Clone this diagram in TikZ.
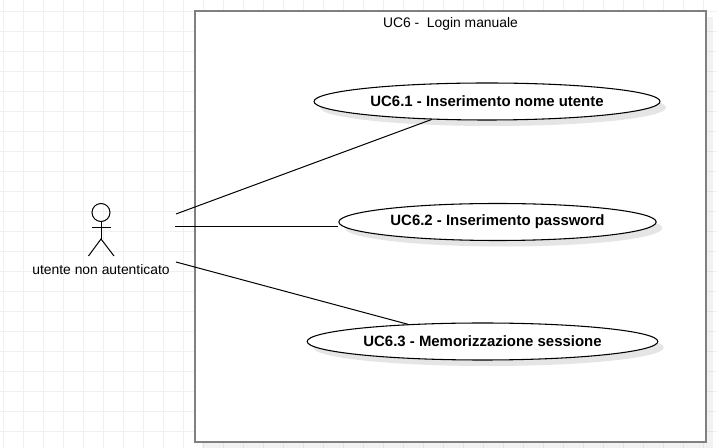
\documentclass[tikz,border=0pt]{standalone}
\usepackage{fontspec}
\setmainfont{Liberation Sans}
\usetikzlibrary{shadows,shapes.geometric}

\tikzset{
	gridline/.style={draw=black!6,line width=0.75pt},
	usecase/.style={ellipse,draw=black,line width=0.8pt,fill=white,minimum height=27.75pt,inner sep=0pt,
		drop shadow={shadow xshift=4.5pt,shadow yshift=-4.5pt,fill=black!10,opacity=1},
		font=\fontsize{11.2}{12}\selectfont\bfseries},
	sysbox/.style={rectangle,draw=black!50,line width=1.5pt,fill=white,minimum width=383.25pt,minimum height=323.25pt,inner sep=0pt,
		drop shadow={shadow xshift=5.6pt,shadow yshift=-4.5pt,fill=black,opacity=0.05}},
	link/.style={draw=black,line width=0.75pt},
	plainlabel/.style={font=\fontsize{10.4}{12}\selectfont,inner sep=0pt}
}

\begin{document}
\begin{tikzpicture}[x=0.75pt,y=-0.75pt]
	\useasboundingbox[fill=white] (0,0) rectangle (717,448);

	% grid
	\foreach \gx in {3,23,...,703} {
		\draw[gridline] (\gx,0) -- (\gx,448);
	}
	\foreach \gy in {12,32,...,432} {
		\draw[gridline] (0,\gy) -- (717,\gy);
	}

	\node[sysbox] (system) at (450.5,226.5) {};
	\node[plainlabel] (title) at (450.5,24) {UC6 -\ \ Login manuale};

	\node[usecase,minimum width=259.5pt] (insnome) at (487,101.5) {UC6.1 - Inserimento nome utente};
	\node[usecase,minimum width=238pt] (inspass) at (497.5,222) {UC6.2 - Inserimento password};
	\node[usecase,minimum width=263pt] (memsess) at (482.5,341.5) {UC6.3 - Memorizzazione sessione};

	% actor
	\node[circle,draw=black,line width=0.75pt,minimum size=13.5pt,inner sep=0pt] (head) at (101,212.5) {};
	\coordinate (hip) at (101,239);
	\coordinate (armleft) at (92,227.5);
	\coordinate (armright) at (110.5,227.5);
	\coordinate (legleft) at (88.5,256);
	\coordinate (legright) at (114,256);
	\draw[link] (head.south) -- (hip);
	\draw[link] (armleft) -- (armright);
	\draw[link] (legleft) -- (hip) -- (legright);
	\node[plainlabel] (actorlabel) at (101,269.5) {utente non autenticato};

	% connections
	\coordinate (from1) at (176,214);
	\coordinate (from2) at (175,227);
	\coordinate (from3) at (176,262);
	\draw[link] (from1) -- (insnome.198);
	\draw[link] (from2) -- (inspass.west |- from2);
	\draw[link] (from3) -- (memsess.167);
\end{tikzpicture}
\end{document}
